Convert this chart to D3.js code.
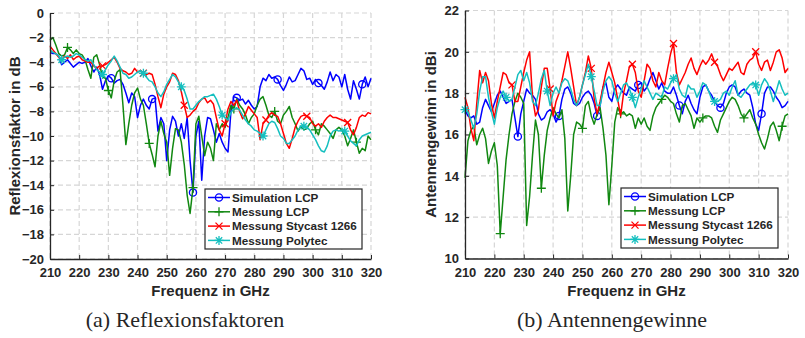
<!DOCTYPE html>
<html>
<head>
<meta charset="utf-8">
<script src="https://cdn.jsdelivr.net/npm/d3@7/dist/d3.min.js"></script>
<style>
  body { margin: 0; background: #fff; }
  svg text { font-family: "Liberation Sans", Arial, sans-serif; font-weight: bold; fill: #262626; }
  svg text.caption { font-family: "Liberation Serif", "Times New Roman", serif; font-weight: normal; }
</style>
</head>
<body>
<svg id="chart" width="805" height="338"></svg>
<script>
// sample grid in GHz (1 GHz steps, 210..320)
var freq = d3.range(210, 321);
var xTicks = [210, 220, 230, 240, 250, 260, 270, 280, 290, 300, 310, 320];
var reflTicks = [-20, -18, -16, -14, -12, -10, -8, -6, -4, -2, 0];
var gainTicks = [10, 12, 14, 16, 18, 20, 22];
var seriesNames = ["Simulation LCP", "Messung LCP", "Messung Stycast 1266", "Messung Polytec"];

// (a) Reflexionsfaktor in dB
var reflSim = [
  -3.2, -3.3, -3.3, -3.5, -4.2, -4.0, -3.8, -4.1, -4.4, -4.2,
  -4.0, -4.1, -4.0, -3.7, -4.3, -4.8, -4.4, -5.0, -6.2, -5.5,
  -5.1, -5.3, -5.7, -5.5, -5.4, -5.8, -6.5, -7.3, -6.5, -6.8,
  -8.5, -7.5, -7.0, -7.5, -7.8, -7.0, -6.9, -9.6, -8.5, -9.0,
  -12.0, -9.5, -8.4, -8.8, -10.0, -9.0, -10.2, -8.5, -12.0, -14.6,
  -10.0, -8.8, -13.6, -10.0, -8.5, -8.6, -9.5, -10.5, -9.8, -10.5,
  -11.0, -11.3, -8.0, -6.8, -6.9, -7.1, -7.0, -7.4, -7.1, -7.5,
  -7.8, -7.6, -6.0, -5.3, -5.5, -5.0, -5.3, -5.2, -5.4, -5.9,
  -6.3, -5.8, -5.2, -5.6, -5.5, -5.0, -4.5, -4.7, -5.4, -5.3,
  -5.8, -5.4, -5.7, -5.9, -6.2, -5.6, -4.8, -5.5, -5.0, -5.2,
  -6.0, -5.0, -6.2, -7.0, -5.5, -6.2, -7.0, -5.8, -5.2, -6.0, -5.3
];
var reflLCP = [
  -2.2, -2.0, -2.6, -3.3, -3.5, -3.4, -2.8, -3.0, -3.3, -3.0,
  -3.3, -3.4, -3.8, -4.6, -5.3, -3.6, -3.4, -4.2, -5.2, -5.3,
  -6.3, -6.9, -5.5, -4.8, -4.6, -7.5, -10.7, -9.0, -7.5, -6.5,
  -6.1, -7.0, -7.5, -9.0, -10.6, -11.5, -12.5, -10.0, -8.8, -9.8,
  -10.5, -13.2, -11.0, -9.4, -9.5, -10.5, -12.3, -14.8, -16.3, -14.2,
  -9.0, -8.4, -10.0, -11.6, -10.5, -11.0, -12.0, -9.0, -9.5, -9.0,
  -9.3, -8.5, -7.5, -7.8, -7.0, -7.5, -7.8, -8.3, -9.0, -8.5,
  -8.2, -7.5, -7.0, -6.8, -7.5, -8.3, -8.5, -8.0, -8.8, -9.0,
  -8.3, -8.0, -7.6, -8.5, -9.0, -9.6, -9.2, -9.5, -9.4, -9.0,
  -8.8, -9.5, -9.9, -9.0, -9.2, -9.5, -9.8, -10.2, -9.5, -9.3,
  -9.5, -10.0, -10.8, -10.2, -9.5, -10.5, -11.4, -11.0, -11.2, -10.0, -10.3
];
var reflSty = [
  -2.7, -3.0, -3.3, -3.6, -3.8, -3.5, -3.7, -3.4, -3.8, -3.6,
  -3.5, -3.8, -3.9, -4.0, -4.0, -4.3, -4.5, -4.3, -4.3, -4.2,
  -4.0, -3.8, -3.6, -4.0, -4.5, -4.7, -4.8, -5.0, -4.9, -4.5,
  -4.8, -4.7, -4.9, -5.0, -4.9, -5.0, -5.8, -6.8, -7.7, -6.6,
  -6.0, -5.6, -4.9, -5.0, -5.5, -6.4, -7.5, -8.5, -8.3, -8.0,
  -7.8, -7.3, -7.0, -6.9, -7.3, -7.1, -7.4, -8.5, -9.5, -10.0,
  -9.0, -7.8, -7.2, -7.5, -7.1, -8.0, -8.6, -8.2, -7.6, -7.9,
  -8.2, -8.5, -10.3, -9.0, -8.7, -8.3, -8.1, -8.3, -8.4, -9.0,
  -9.8, -10.6, -11.0, -10.2, -9.3, -8.8, -8.4, -8.3, -8.4, -8.5,
  -9.0, -9.2, -9.0, -9.3, -8.8, -8.5, -8.3, -8.5, -8.5, -8.6,
  -8.7, -8.8, -8.9, -9.5, -9.9, -9.3, -8.5, -8.3, -8.4, -8.1, -8.2
];
var reflPoly = [
  -3.0, -3.2, -3.3, -3.5, -3.8, -3.6, -3.5, -3.6, -3.5, -3.3,
  -3.4, -3.6, -3.8, -3.9, -3.8, -4.2, -4.6, -4.8, -5.0, -4.6,
  -4.2, -3.9, -3.5, -3.9, -4.4, -4.9, -5.0, -5.3, -5.2, -5.0,
  -4.8, -4.7, -4.9, -5.2, -5.5, -5.6, -6.0, -6.5, -6.8, -6.4,
  -5.8, -5.4, -5.0, -5.2, -5.6, -6.0, -6.3, -7.0, -7.8, -7.8,
  -7.5, -7.2, -7.0, -6.8, -6.8, -6.7, -6.6, -7.0, -7.6, -8.3,
  -8.5, -8.7, -8.1, -7.8, -7.7, -7.9, -8.3, -8.7, -9.0, -9.2,
  -9.5, -9.6, -9.8, -10.0, -9.5, -9.0, -8.8, -8.9, -9.4, -10.0,
  -10.2, -10.6, -10.6, -10.3, -10.0, -9.5, -9.2, -9.2, -9.3, -9.5,
  -9.9, -10.3, -10.8, -11.2, -11.3, -10.8, -10.0, -9.6, -9.5, -9.6,
  -9.5, -9.6, -10.0, -10.4, -10.6, -10.8, -10.3, -10.0, -9.9, -9.8, -9.7
];

// (b) Antennengewinn in dBi
var gainSim = [
  17.2, 16.9, 16.8, 16.9, 16.5, 16.6, 17.3, 17.7, 17.4, 17.1,
  17.5, 17.9, 18.1, 17.8, 17.5, 17.6, 17.7, 16.8, 15.9, 17.0,
  17.6, 18.2, 18.0, 17.9, 17.7, 17.0, 16.7, 16.8, 17.1, 17.2,
  17.0, 16.6, 16.9, 17.7, 18.2, 18.3, 18.0, 17.5, 17.4, 17.5,
  17.8, 18.0, 18.1, 17.9, 17.5, 16.9, 17.4, 18.3, 18.5, 17.8,
  17.6, 18.2, 18.4, 18.2, 18.0, 17.9, 18.3, 18.2, 18.1, 18.4,
  18.5, 18.1, 18.3, 18.7, 19.0, 18.6, 18.2, 18.5, 18.1, 18.0,
  18.0, 18.3, 17.9, 17.4, 17.0, 17.6, 17.9, 17.5, 17.2, 17.0,
  17.8, 18.3, 18.4, 18.1, 17.9, 17.6, 17.4, 17.3, 17.5, 18.0,
  18.3, 18.4, 18.3, 17.9, 18.1, 18.2, 18.0, 17.9, 17.3, 16.5,
  16.2, 17.0, 18.0, 18.3, 18.3, 18.1, 17.8, 17.6, 17.3, 17.4, 17.6
];
var gainLCP = [
  13.9, 15.7, 16.2, 16.4, 15.5, 16.0, 16.3, 15.8, 14.6, 15.2,
  15.6, 14.5, 11.2, 13.0, 14.8, 16.0, 17.0, 17.6, 18.0, 17.8,
  17.5, 11.6, 13.0, 15.0, 16.7, 16.0, 13.4, 15.0, 16.2, 16.8,
  17.3, 17.0, 16.8, 17.2, 15.8, 12.3, 14.0, 16.0, 16.6, 16.5,
  16.3, 17.4, 17.6, 16.9, 16.5, 17.0, 17.3, 16.3, 15.0, 12.6,
  14.5, 16.6, 17.3, 17.0, 17.1, 16.9, 17.0, 16.9, 16.3, 16.8,
  16.5, 16.8, 16.4, 16.2, 16.9, 17.3, 17.5, 17.7, 17.9, 17.8,
  17.6, 17.5, 17.0, 16.6, 17.4, 17.5, 17.2, 16.9, 16.3, 16.8,
  16.6, 16.8, 16.9, 16.9, 16.8, 16.4, 16.1, 16.7, 17.0, 17.3,
  17.6, 17.8, 17.7, 17.4, 17.0, 16.8, 17.0, 17.2, 16.8, 16.5,
  16.0, 15.6, 15.3, 15.8, 16.4, 16.6, 16.2, 15.7, 16.4, 16.9, 17.0
];
var gainSty = [
  17.8, 17.3, 16.3, 15.7, 17.5, 19.1, 18.5, 19.0, 18.6, 17.5,
  16.8, 17.6, 18.3, 19.0, 18.9, 18.5, 18.4, 17.6, 17.6, 18.3,
  19.0, 19.6, 20.0, 17.8, 16.9, 17.2, 18.3, 19.2, 19.2, 18.2,
  16.9, 17.6, 18.0, 18.6, 19.3, 20.0, 19.2, 18.3, 17.4, 17.8,
  18.4, 19.0, 19.8, 19.2, 17.7, 17.0, 17.6, 18.3, 19.0, 19.5,
  19.0, 18.5, 17.7, 16.9, 18.0, 18.6, 19.3, 19.4, 19.0, 18.1,
  17.8, 18.6, 19.4, 19.2, 18.6, 18.3, 19.0, 18.6, 18.4, 19.2,
  19.9, 20.4, 19.0, 18.4, 18.7, 19.0, 19.4, 19.7, 19.2, 18.9,
  19.3, 19.6, 19.4, 19.6, 19.9, 19.5, 19.3, 18.9, 18.6, 18.9,
  19.2, 19.1, 19.3, 19.5, 19.0, 18.9, 19.4, 19.6, 19.7, 20.0,
  19.4, 19.1, 19.5, 19.6, 19.1, 19.5, 20.0, 20.1, 19.7, 19.0, 19.2
];
var gainPoly = [
  17.2, 17.1, 16.7, 16.3, 17.0, 18.1, 18.8, 18.8, 17.8, 17.1,
  16.5, 17.3, 17.8, 18.1, 17.8, 17.6, 17.7, 18.3, 18.9, 19.1,
  18.6, 19.0, 18.5, 17.6, 17.4, 18.0, 18.7, 19.1, 18.1, 17.4,
  18.0, 18.3, 18.0, 18.5, 18.7, 18.6, 18.2, 17.7, 17.4, 17.8,
  18.4, 18.9, 19.4, 18.8, 18.1, 17.4, 17.4, 18.1, 18.6, 18.8,
  18.6, 18.0, 17.6, 18.0, 18.4, 18.5, 18.2, 17.8, 17.3, 17.8,
  18.2, 18.6, 18.3, 18.0, 17.7, 18.0, 17.9, 17.8, 18.3, 18.2,
  18.5, 18.7, 18.9, 18.2, 17.9, 17.8, 18.4, 18.2, 18.2, 17.8,
  18.1, 18.5, 18.4, 18.1, 17.7, 17.6, 17.6, 17.7, 18.0, 18.1,
  17.9, 18.3, 18.6, 17.9, 17.8, 18.0, 18.2, 18.4, 18.5, 18.4,
  17.9, 18.4, 18.7, 18.5, 18.1, 17.6, 18.1, 18.6, 18.2, 17.9, 18.0
];

var colors = ["#0000ff", "#118811", "#ff0000", "#14bfbf"];
var shapes = {
  circle: null,
  plus: "M-4.5,0H4.5M0,-4.5V4.5",
  cross: "M-3.5,-3.5L3.5,3.5M-3.5,3.5L3.5,-3.5",
  star: "M-4.5,0H4.5M0,-4.5V4.5M-3.2,-3.2L3.2,3.2M-3.2,3.2L3.2,-3.2"
};
var markerTypes = ["circle", "plus", "cross", "star"];

var svg = d3.select("#chart");

function drawMarker(g, type, color, x, y) {
  if (type === "circle") {
    g.append("circle").attr("cx", x).attr("cy", y).attr("r", 3.6)
      .attr("fill", "none").attr("stroke", color).attr("stroke-width", 1.3);
  } else {
    g.append("path").attr("d", shapes[type])
      .attr("transform", "translate(" + x + "," + y + ")")
      .attr("fill", "none").attr("stroke", color).attr("stroke-width", 1.3);
  }
}

function drawPanel(p) {
  var x = d3.scaleLinear().domain([210, 320]).range([p.left, p.right]);
  var y = d3.scaleLinear().domain(p.yDomain).range([p.bottom, p.top]);
  var g = svg.append("g");

  // dashed grid
  var grid = g.append("g").attr("stroke", "#d6d6d6").attr("stroke-width", 1.2)
    .attr("stroke-dasharray", "5,3");
  grid.selectAll(".gx").data(xTicks).enter().append("line")
    .attr("x1", function(d) { return x(d); }).attr("x2", function(d) { return x(d); })
    .attr("y1", p.top).attr("y2", p.bottom);
  grid.selectAll(".gy").data(p.yTicks).enter().append("line")
    .attr("x1", p.left).attr("x2", p.right)
    .attr("y1", function(d) { return y(d); }).attr("y2", function(d) { return y(d); });

  // curves
  var line = d3.line()
    .x(function(d, i) { return x(freq[i]); })
    .y(function(d) { return y(d); });
  p.series.forEach(function(vals, k) {
    g.append("path").datum(vals)
      .attr("d", line).attr("fill", "none")
      .attr("stroke", colors[k]).attr("stroke-width", 1.5)
      .attr("stroke-linejoin", "round");
    var mg = g.append("g");
    for (var f = p.markerStart[k]; f <= 320.5; f += p.markerStep[k]) {
      var i = Math.round(f - 210);
      drawMarker(mg, markerTypes[k], colors[k], x(freq[i]), y(vals[i]));
    }
  });

  // axes
  var xAxis = g.append("g").attr("transform", "translate(0," + p.bottom + ")")
    .call(d3.axisBottom(x).tickValues(xTicks).tickSize(-4).tickSizeOuter(0).tickPadding(9));
  var yAxis = g.append("g").attr("transform", "translate(" + p.left + ",0)")
    .call(d3.axisLeft(y).tickValues(p.yTicks).tickSize(-4).tickSizeOuter(0).tickPadding(6));
  [xAxis, yAxis].forEach(function(a) {
    a.select(".domain").attr("stroke", "#262626").attr("stroke-width", 1.3);
    a.selectAll(".tick line").attr("stroke", "#262626").attr("stroke-width", 1);
    a.selectAll(".tick text").attr("font-size", "13px")
      .attr("font-family", "Liberation Sans, Arial, sans-serif")
      .attr("font-weight", "bold").attr("fill", "#262626");
  });

  // labels
  g.append("text").attr("x", (p.left + p.right) / 2).attr("y", 296)
    .attr("text-anchor", "middle").attr("font-size", "15px").text("Frequenz in GHz");
  g.append("text")
    .attr("transform", "translate(" + p.ylabelX + "," + ((p.top + p.bottom) / 2) + ") rotate(-90)")
    .attr("text-anchor", "middle").attr("font-size", "15px").text(p.ylabel);
  g.append("text").attr("class", "caption").attr("x", p.captionX).attr("y", 327)
    .attr("text-anchor", "middle").attr("font-size", "22px").text(p.caption);

  // legend
  var lg = g.append("g").attr("transform", "translate(" + p.legendX + "," + p.legendY + ")");
  lg.append("rect").attr("width", 157).attr("height", 60)
    .attr("fill", "#fff").attr("stroke", "#262626").attr("stroke-width", 1.2);
  seriesNames.forEach(function(name, k) {
    var cy = 8.5 + k * 14.3;
    lg.append("line").attr("x1", 3).attr("x2", 25).attr("y1", cy).attr("y2", cy)
      .attr("stroke", colors[k]).attr("stroke-width", 1.5);
    drawMarker(lg, markerTypes[k], colors[k], 14, cy);
    lg.append("text").attr("x", 27).attr("y", cy + 4.2)
      .attr("font-size", "11.7px").text(name);
  });
}

drawPanel({
  left: 50, right: 371, top: 13, bottom: 259,
  yDomain: [-20, 0], yTicks: reflTicks,
  ylabel: "Reflexionsfaktor in dB", ylabelX: 20,
  caption: "(a) Reflexionsfaktoren", captionX: 185,
  legendX: 205, legendY: 189,
  series: [reflSim, reflLCP, reflSty, reflPoly],
  markerStart: [230.5, 216.2, 227.7, 213.7],
  markerStep: [14.35, 14.1, 14.1, 13.9]
});

drawPanel({
  left: 465, right: 788, top: 10.5, bottom: 258.5,
  yDomain: [10, 22], yTicks: gainTicks,
  ylabel: "Antennengewinn in dBi", ylabelX: 436,
  caption: "(b) Antennengewinne", captionX: 612,
  legendX: 621, legendY: 188,
  series: [gainSim, gainLCP, gainSty, gainPoly],
  markerStart: [227.6, 222.2, 225.5, 210.0],
  markerStep: [13.9, 13.75, 13.95, 14.2]
});
</script>
</body>
</html>
